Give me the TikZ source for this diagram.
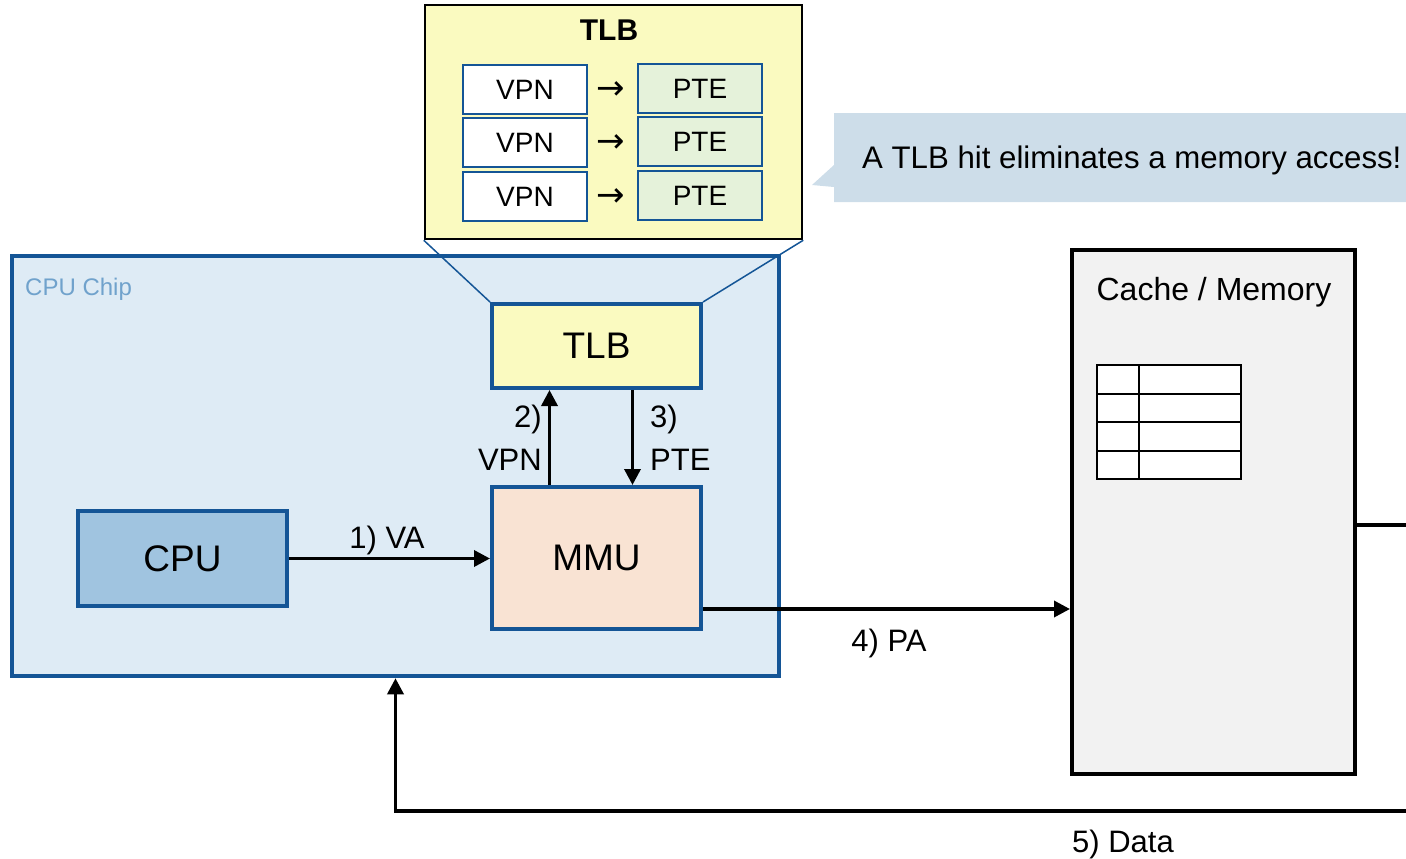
\documentclass[tikz,border=0pt]{standalone}
\usepackage{fontspec}
\setmainfont{Liberation Sans}
\newfontfamily\arrowfont{DejaVu Sans}
\usepackage{tikz}
\usetikzlibrary{arrows.meta,positioning,calc}
\definecolor{chipblue}{RGB}{20, 85, 150}
\definecolor{chipfill}{RGB}{222, 235, 245}
\definecolor{chiplabel}{RGB}{112, 162, 204}
\definecolor{cpufill}{RGB}{160, 196, 224}
\definecolor{tlbyellow}{RGB}{250, 250, 192}
\definecolor{mmupeach}{RGB}{249, 227, 211}
\definecolor{ptegreen}{RGB}{229, 242, 218}
\definecolor{notefill}{RGB}{205, 221, 233}
\definecolor{memgray}{RGB}{242, 242, 242}

\begin{document}
\begin{tikzpicture}[x=1pt,y=-1pt,
    unit/.style={draw=chipblue,line width=4pt,minimum width=209pt,font=\fontsize{37}{44}\selectfont},
    entry/.style={draw=chipblue,line width=2pt,minimum width=124pt,minimum height=49pt,font=\fontsize{28}{34}\selectfont},
    lbl/.style={font=\fontsize{31}{43}\selectfont,inner sep=0pt},
    flow/.style={line width=3.5pt,-{Triangle[length=16pt,width=16pt]}}]
    \useasboundingbox (0,0) rectangle (1406,859);
    \fill[notefill] (834,113) -- (1440,113) -- (1440,202) -- (834,202) -- (834,187) -- (812,185) -- (834,165) -- cycle;
    \node[lbl,anchor=base west,font=\fontsize{31.2}{38}\selectfont] (hitnote) at (862,168) {A TLB hit eliminates a memory access!};
    \node[draw=chipblue,fill=chipfill,line width=4.5pt,minimum width=767pt,minimum height=420pt] (chip) at (395.5,466) {};
    \node[lbl,anchor=base west,text=chiplabel,font=\fontsize{24}{28}\selectfont] (chiplbl) at (25,295) {CPU Chip};
    \node[draw=black,fill=tlbyellow,line width=2.5pt,minimum width=377pt,minimum height=234pt] (tlbbig) at (613.5,122) {};
    \node[font=\fontsize{30}{36}\selectfont\bfseries,inner sep=0pt] (tlbtitle) at (609,30) {TLB};
    \foreach \i/\y in {1/89.5,2/142.5,3/196.5} {
        \node[entry,fill=white] (vpn\i) at (525,\y) {VPN};
        \node[entry,fill=ptegreen] (pte\i) at (700,\y-1) {PTE};
        \node[font=\fontsize{34}{36}\arrowfont,inner sep=0pt] (maps\i) at (611,\y+1) {→};
    }
    \node[unit,fill=tlbyellow,minimum height=84pt] (tlb) at (596.5,346) {TLB};
    \node[unit,fill=cpufill,minimum height=95pt] (cpu) at (182.5,558.5) {CPU};
    \node[unit,fill=mmupeach,minimum height=142pt] (mmu) at (596.5,558) {MMU};
    \draw[chipblue,line width=1.5pt] (tlb.north west) -- (tlbbig.south west);
    \draw[chipblue,line width=1.5pt] (tlb.north east) -- (tlbbig.south east);
    \node[draw=black,fill=memgray,line width=4pt,minimum width=283pt,minimum height=524pt] (mem) at (1213.5,512) {};
    \node[lbl,anchor=base,font=\fontsize{32}{38}\selectfont] (memlbl) at (1214,300) {Cache / Memory};
    \draw[line width=2pt,fill=white] (1097,365) rectangle (1241,479);
    \foreach \y in {393.5,422,450.5}
        \draw[line width=2pt] (1097,\y) -- (1241,\y);
    \draw[line width=2pt] (1139,365) -- (1139,479);
    \draw[flow] (cpu.east) -- (cpu.east -| mmu.west);
    \node[lbl,anchor=base] (valbl) at (387,548) {1) VA};
    \draw[flow] ([xshift=-47pt]mmu.north) -- ([xshift=-47pt]tlb.south);
    \node[lbl,anchor=east,align=right] (vpnlbl) at (542,438) {2)\\VPN};
    \draw[flow] ([xshift=36pt]tlb.south) -- ([xshift=36pt]mmu.north);
    \node[lbl,anchor=west,align=left] (ptelbl) at (650,438) {3)\\PTE};
    \draw[flow] ([yshift=-51pt]mmu.east) -- ([yshift=-51pt]mmu.east -| mem.west);
    \node[lbl,anchor=base] (palbl) at (889,651) {4) PA};
    \coordinate (memexit) at (1430,525);
    \draw[line width=3.5pt] ([yshift=-13pt]mem.east) -- (memexit);
    \coordinate (datain) at (1430,811);
    \draw[flow] (datain) -| (chip.south);
    \node[lbl,anchor=base] (datalbl) at (1123,852) {5) Data};
\end{tikzpicture}
\end{document}
